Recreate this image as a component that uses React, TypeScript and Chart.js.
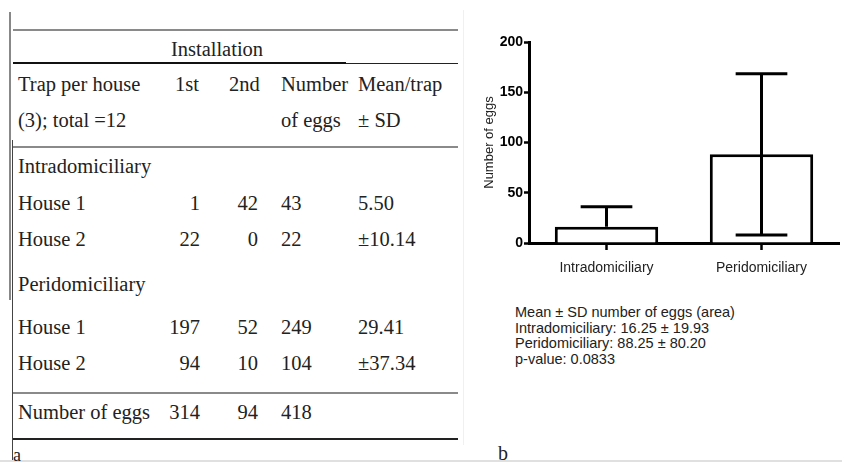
import React, { useEffect, useRef } from "react";
import { Chart, registerables } from "chart.js";

Chart.register(...registerables);

// ---- chart data ----
const categories = ["Intradomiciliary", "Peridomiciliary"];
const meanEggs = [16.25, 88.25];
const sdEggs = [19.93, 80.2];
const yTickValues = [0, 50, 100, 150, 200];
const yAxisTitle = "Number of eggs";

const summaryLines = [
  "Mean ± SD number of eggs (area)",
  "Intradomiciliary: 16.25 ± 19.93",
  "Peridomiciliary: 88.25 ± 80.20",
  "p-value: 0.0833",
];

// ---- table data ----
const headerRow1 = ["Trap per house", "1st", "2nd", "Number", "Mean/trap"];
const headerRow2 = ["(3); total =12", "", "", "of eggs", "± SD"];
const intraRows = [
  ["House 1", "1", "42", "43", "5.50"],
  ["House 2", "22", "0", "22", "±10.14"],
];
const periRows = [
  ["House 1", "197", "52", "249", "29.41"],
  ["House 2", "94", "10", "104", "±37.34"],
];
const totalRow = ["Number of eggs", "314", "94", "418", ""];

const SERIF = '"Liberation Serif", "Times New Roman", serif';
const SANS = '"Liberation Sans", Arial, sans-serif';

const errorBarPlugin = {
  id: "errorBars",
  afterDatasetsDraw(chart: any) {
    const meta = chart.getDatasetMeta(0);
    const ys = chart.scales.y;
    const ctx = chart.ctx;
    ctx.save();
    ctx.strokeStyle = "#000";
    ctx.lineWidth = 3;
    ctx.lineCap = "butt";
    meta.data.forEach((bar: any, i: number) => {
      const m = meanEggs[i];
      const s = sdEggs[i];
      const x = bar.x;
      const half = bar.width / 4;
      const yMean = ys.getPixelForValue(m);
      const yTop = ys.getPixelForValue(m + s);
      ctx.beginPath();
      ctx.moveTo(x, yMean);
      ctx.lineTo(x, yTop);
      ctx.moveTo(x - half, yTop);
      ctx.lineTo(x + half, yTop);
      if (m - s >= 0) {
        const yBot = ys.getPixelForValue(m - s);
        ctx.moveTo(x, yMean);
        ctx.lineTo(x, yBot);
        ctx.moveTo(x - half, yBot);
        ctx.lineTo(x + half, yBot);
      }
      ctx.stroke();
    });
    ctx.restore();
  },
};

function BarChart() {
  const ref = useRef<HTMLCanvasElement>(null);
  useEffect(() => {
    if (!ref.current) return;
    const chart = new Chart(ref.current, {
      type: "bar",
      data: {
        labels: categories,
        datasets: [
          {
            data: meanEggs,
            backgroundColor: "#ffffff",
            borderColor: "#000000",
            borderWidth: 3,
            borderSkipped: "bottom",
            barPercentage: 0.667,
            categoryPercentage: 1,
          },
        ],
      },
      options: {
        animation: false,
        responsive: false,
        devicePixelRatio: 1,
        layout: { padding: { top: 22, right: 3, left: 0, bottom: 0 } },
        plugins: { legend: { display: false }, tooltip: { enabled: false } },
        scales: {
          x: {
            offset: true,
            grid: {
              offset: false,
              drawOnChartArea: false,
              drawTicks: true,
              tickLength: 7,
              tickWidth: 2.5,
              tickColor: "#000",
              color: "#000",
            },
            border: { display: true, color: "#000", width: 3 },
            ticks: {
              color: "#222",
              padding: 10,
              font: { family: SANS, size: 14 },
            },
            afterFit: (s: any) => {
              s.height = 47;
            },
          },
          y: {
            min: 0,
            max: 200,
            afterBuildTicks: (s: any) => {
              s.ticks = yTickValues.map((v) => ({ value: v }));
            },
            grid: {
              drawOnChartArea: false,
              drawTicks: true,
              tickLength: 5,
              tickWidth: 2.5,
              tickColor: "#000",
              color: "#000",
            },
            border: { display: true, color: "#000", width: 3 },
            ticks: {
              color: "#000",
              padding: 1,
              font: { family: SANS, size: 14, weight: "bold" },
            },
            title: {
              display: true,
              text: yAxisTitle,
              color: "#222",
              padding: { top: 12, bottom: 0 },
              font: { family: SANS, size: 13 },
            },
            afterFit: (s: any) => {
              s.width = 59;
            },
          },
        },
      },
      plugins: [errorBarPlugin],
    } as any);
    return () => chart.destroy();
  }, []);
  return (
    <canvas
      ref={ref}
      width={372}
      height={270}
      style={{ position: "absolute", left: 470, top: 20, width: 372, height: 270 }}
    />
  );
}

function T({ x, y, text, align = "left", size = 20.5 }: any) {
  const style: any = {
    position: "absolute",
    top: y - 13,
    height: 26,
    lineHeight: "26px",
    fontFamily: SERIF,
    fontSize: size,
    color: "#222",
    whiteSpace: "nowrap",
  };
  if (align === "right") {
    style.right = 842 - x;
  } else if (align === "center") {
    style.left = x - 150;
    style.width = 300;
    style.textAlign = "center";
  } else {
    style.left = x;
  }
  return <div style={style}>{text}</div>;
}

function HLine({ y, x1, x2, h = 1.5, color = "#888" }: any) {
  return (
    <div
      style={{
        position: "absolute",
        left: x1,
        top: y - h / 2,
        width: x2 - x1,
        height: h,
        background: color,
      }}
    />
  );
}

function VLine({ x, y1, y2, w = 1.5, color = "#888" }: any) {
  return (
    <div
      style={{
        position: "absolute",
        left: x - w / 2,
        top: y1,
        width: w,
        height: y2 - y1,
        background: color,
      }}
    />
  );
}

function Row({ cells, y }: { cells: string[]; y: number }) {
  return (
    <>
      <T x={18} y={y} text={cells[0]} />
      <T x={200} y={y} text={cells[1]} align="right" />
      <T x={258} y={y} text={cells[2]} align="right" />
      <T x={281} y={y} text={cells[3]} />
      <T x={358} y={y} text={cells[4]} />
    </>
  );
}

export default function App() {
  return (
    <div
      style={{
        position: "fixed",
        left: 0,
        top: 0,
        width: 842,
        height: 462,
        background: "#fff",
        overflow: "hidden",
      }}
    >
      {/* left panel frame */}
      <VLine x={10} y1={12} y2={300} w={1.5} color="#888" />
      <VLine x={12.5} y1={140} y2={462} w={1.2} color="#444" />
      <VLine x={463} y1={10} y2={445} w={1} color="#f0f0f0" />
      <HLine y={29.5} x1={13} x2={458} h={2} color="#8a8a8a" />
      <HLine y={63} x1={13} x2={346} h={2} color="#111" />
      <HLine y={63.5} x1={346} x2={458} h={1} color="#222" />
      <HLine y={146.5} x1={13} x2={458} h={2} color="#8a8a8a" />
      <HLine y={392.5} x1={13} x2={458} h={2} color="#8a8a8a" />
      <HLine y={439} x1={13} x2={458} h={1.3} color="#222" />
      <HLine y={461} x1={0} x2={842} h={1.5} color="#e0e0e0" />

      {/* table text */}
      <T x={217} y={49} text="Installation" align="center" />
      <T x={18} y={84} text={headerRow1[0]} />
      <T x={175} y={84} text={headerRow1[1]} />
      <T x={229} y={84} text={headerRow1[2]} />
      <T x={281} y={84} text={headerRow1[3]} />
      <T x={358} y={84} text={headerRow1[4]} />
      <T x={18} y={120} text={headerRow2[0]} />
      <T x={281} y={120} text={headerRow2[3]} />
      <T x={358} y={120} text={headerRow2[4]} />
      <T x={18} y={166} text="Intradomiciliary" />
      <Row cells={intraRows[0]} y={203} />
      <Row cells={intraRows[1]} y={239} />
      <T x={18} y={284} text="Peridomiciliary" />
      <Row cells={periRows[0]} y={327} />
      <Row cells={periRows[1]} y={363} />
      <Row cells={totalRow} y={412} />
      <T x={13} y={455} text="a" size={18} />
      <T x={498} y={453} text="b" size={20} />

      {/* chart */}
      <BarChart />

      {/* summary text */}
      <div
        style={{
          position: "absolute",
          left: 515,
          top: 305,
          fontFamily: SANS,
          fontSize: 14.5,
          lineHeight: "15.6px",
          color: "#222",
          whiteSpace: "nowrap",
        }}
      >
        {summaryLines.map((l, i) => (
          <div key={i}>{l}</div>
        ))}
      </div>
    </div>
  );
}
